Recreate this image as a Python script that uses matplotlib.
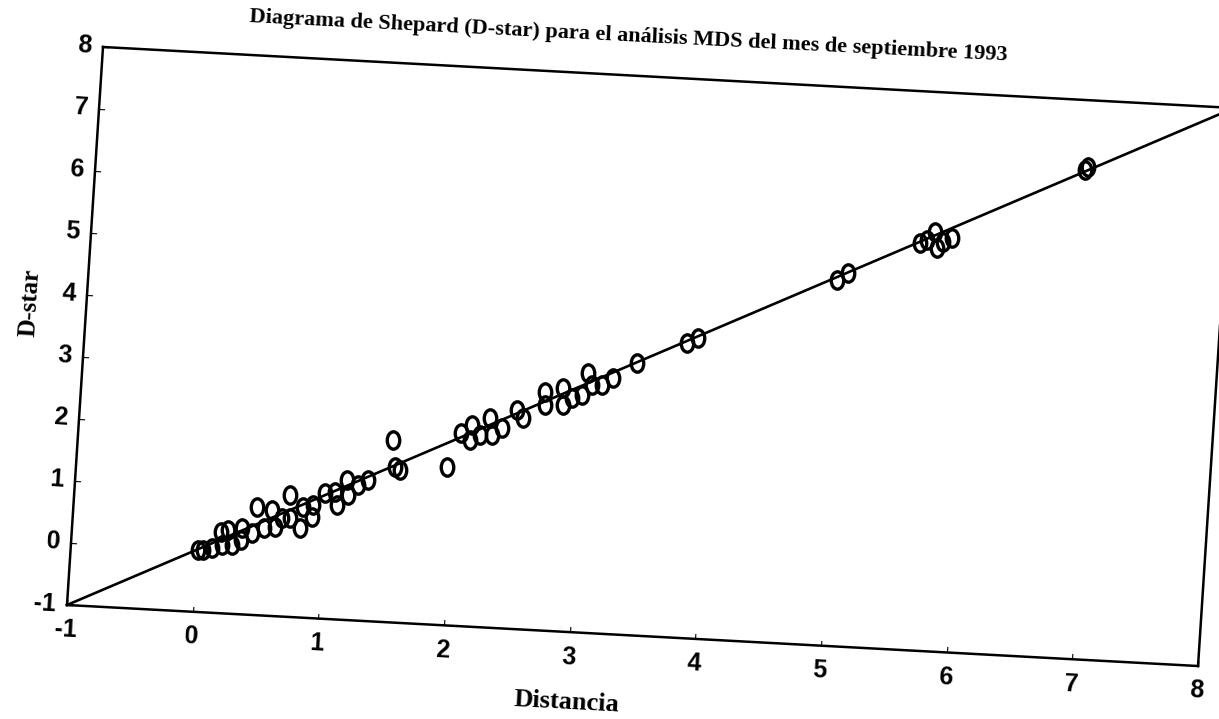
import numpy as np
import matplotlib
matplotlib.use("Agg")
import matplotlib.pyplot as plt
from matplotlib.path import Path
from matplotlib.transforms import Affine2D
from mpl_toolkits.axisartist import floating_axes
from mpl_toolkits.axisartist.grid_finder import FixedLocator, DictFormatter

titulo = "Diagrama de Shepard (D-star) para el análisis MDS del mes de septiembre 1993"
etiqueta_x = "Distancia"
etiqueta_y = "D-star"

ticks = [-1, 0, 1, 2, 3, 4, 5, 6, 7, 8]
tick_labels = ["-1", "0", "1", "2", "3", "4", "5", "6", "7", "8"]

# puntos del diagrama (distancia, D-star)
distancia = [0.01, 0.05, 0.12, 0.20, 0.18, 0.24, 0.28, 0.35, 0.35, 0.43,
             0.46, 0.52, 0.58, 0.61, 0.66, 0.71, 0.72, 0.81, 0.82, 0.90,
             0.90, 0.99, 1.07, 1.09, 1.16, 1.17, 1.25, 1.32, 1.50, 1.53,
             1.57, 1.94, 2.04, 2.12, 2.11, 2.19, 2.26, 2.28, 2.36, 2.47,
             2.52, 2.68, 2.69, 2.82, 2.83, 2.90, 2.98, 3.01, 3.05, 3.13,
             3.21, 3.40, 3.78, 3.87, 4.94, 5.02, 5.58, 5.63, 5.69, 5.72,
             5.76, 5.83, 6.85, 6.87]
d_star = [0.00, 0.00, 0.04, 0.10, 0.31, 0.35, 0.11, 0.39, 0.20, 0.32,
          0.74, 0.41, 0.70, 0.43, 0.58, 0.96, 0.59, 0.44, 0.78, 0.63,
          0.82, 1.02, 1.05, 0.84, 1.25, 1.01, 1.18, 1.27, 1.93, 1.50,
          1.46, 1.55, 2.11, 2.24, 2.00, 2.09, 2.37, 2.10, 2.22, 2.52,
          2.40, 2.84, 2.63, 2.92, 2.64, 2.77, 2.82, 3.18, 2.99, 3.00,
          3.12, 3.38, 3.75, 3.84, 4.89, 5.01, 5.56, 5.61, 5.75, 5.49,
          5.59, 5.67, 6.87, 6.92]

# recta de referencia D-star = distancia
recta = [-1, 8]

# la hoja escaneada esta algo girada: se reproduce con una transformacion afin
hoja = Affine2D(np.array([[125.67, 4.0, 196.67],
                          [-6.78, 62.0, 169.22],
                          [0.0, 0.0, 1.0]]))

formato = DictFormatter(dict(zip(ticks, tick_labels)))
grid_helper = floating_axes.GridHelperCurveLinear(
    hoja, extremes=(-1, 8, -1, 8),
    grid_locator1=FixedLocator(ticks), tick_formatter1=formato,
    grid_locator2=FixedLocator(ticks), tick_formatter2=formato)

fig = plt.figure(figsize=(12.19, 7.19), dpi=100)
ax = fig.add_axes([0, 0, 1, 1], axes_class=floating_axes.FloatingAxes,
                  grid_helper=grid_helper)
ax.set_xlim(0, 1219)
ax.set_ylim(0, 719)

for lado in ["bottom", "left", "top", "right"]:
    ax.axis[lado].line.set_linewidth(1.8)
    ax.axis[lado].major_ticks.set_ticksize(4)
    ax.axis[lado].major_ticks.set_linewidth(1.0)
for lado in ["top", "right"]:
    ax.axis[lado].major_ticklabels.set_visible(False)
    ax.axis[lado].major_ticks.set_visible(False)
for lado in ["bottom", "left"]:
    tl = ax.axis[lado].major_ticklabels
    tl.set_visible(True)
    tl.set_fontsize(18)
    tl.set_fontweight("bold")
    tl.set_fontfamily("Liberation Sans")
ax.axis["bottom"].major_ticklabels.set_pad(10)
ax.axis["left"].major_ticklabels.set_pad(8)

aux = ax.get_aux_axes(hoja)
aux.plot(recta, recta, color="black", linewidth=1.9, zorder=2)

ovalo = Path.unit_circle().transformed(Affine2D().scale(0.72, 1.0))
aux.plot(distancia, d_star, linestyle="none", marker=ovalo, markersize=12.5,
         markerfacecolor="none", markeredgecolor="black", markeredgewidth=2.4,
         zorder=3)

fig.text(628 / 1219, 1 - 36 / 719, titulo, rotation=-2.9, ha="center", va="center",
         fontsize=16, fontweight="bold", family="Liberation Serif")
fig.text(567 / 1219, 1 - 702 / 719, etiqueta_x, rotation=-3.0, ha="center", va="center",
         fontsize=19, fontweight="bold", family="Liberation Serif")
fig.text(30 / 1219, 1 - 303 / 719, etiqueta_y, rotation=86.5, ha="center", va="center",
         fontsize=18, fontweight="bold", family="Liberation Serif")

fig.savefig("out.png", dpi=100)
